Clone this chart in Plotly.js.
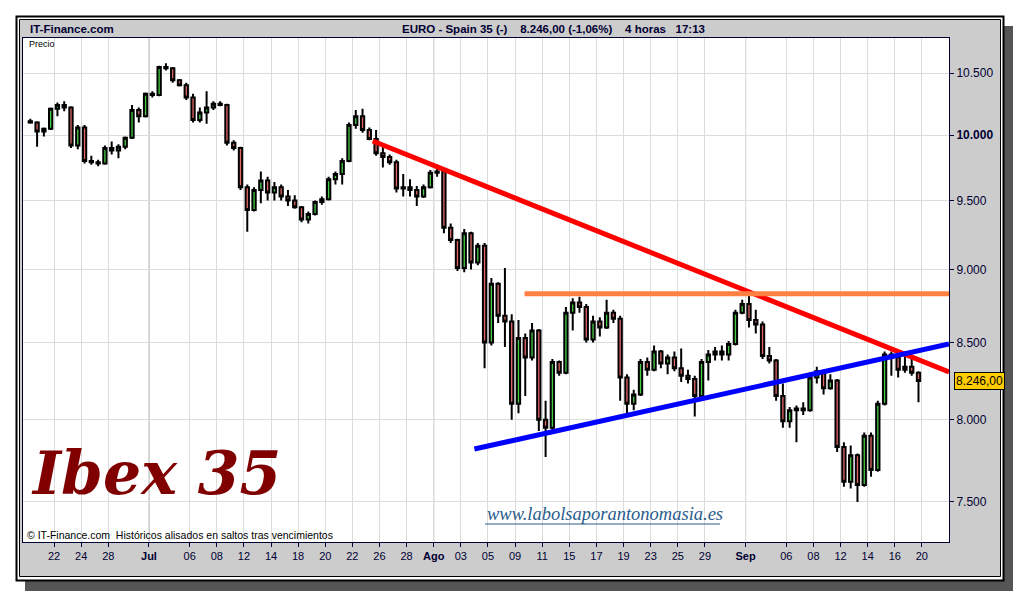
<!DOCTYPE html>
<html>
<head>
<meta charset="utf-8">
<script src="https://cdn.plot.ly/plotly-3.0.1.min.js"></script>
<style>
  body { margin: 0; background: #ffffff; }
  #graph_area { width: 1020px; height: 600px; }
</style>
</head>
<body>
<div id="graph_area"></div>
<script>
// Ibex 35, barras de 4 horas (2 por sesion), 20 jun - 19 sep
const tickDay = [2, 4, 6, 9, 12, 14, 16, 18, 20, 22, 24, 26, 28, 30, 32, 34, 36, 38, 40, 42, 44, 46, 48, 50, 53, 56, 58, 60, 62, 64, 66];
const tickText = ["22", "24", "28", "<b>Jul</b>", "06", "08", "12", "14", "18", "20", "22", "26", "28", "<b>Ago</b>",
    "03", "05", "09", "11", "15", "17", "19", "23", "25", "29", "<b>Sep</b>", "06", "08", "12", "14", "16", "20"];
const monthDay = [9, 30, 53];

const priceTicks = [7500, 8000, 8500, 9000, 9500, 10000, 10500];
const priceText = ["7.500", "8.000", "8.500", "9.000", "9.500", "<b>10.000</b>", "10.500"];

const open = [
    10110, 10100, 10030, 10050, 10210, 10240, 10220, 9920, 10060, 9800,
    9790, 9780, 9900, 9880, 9910, 9980, 10200, 10150, 10330, 10320,
    10550, 10540, 10440, 10400, 10300, 10120, 10180, 10220, 10250, 10240,
    9940, 9900, 9600, 9430, 9580, 9650, 9560, 9600, 9530, 9500,
    9450, 9360, 9400, 9490, 9510, 9660, 9700, 9800, 10080, 10150,
    10040, 9970, 9860, 9830, 9790, 9590, 9600, 9580, 9530, 9600,
    9710, 9720, 9300, 9210, 9010, 9260, 9050, 9170, 8500, 8900,
    8680, 8640, 8100, 8530, 8400, 8580, 8000, 7950, 8370, 8300,
    8700, 8770, 8740, 8520, 8640, 8600, 8700, 8660, 8270, 8100,
    8160, 8370, 8320, 8440, 8360, 8400, 8330, 8280, 8260, 8150,
    8370, 8420, 8440, 8420, 8490, 8700, 8760, 8650, 8620, 8410,
    8380, 8150, 7990, 8060, 8070, 8060, 8270, 8310, 8200, 8250,
    7830, 7620, 7780, 7600, 7900, 7690, 8100, 8420, 8400, 8320,
    8340, 8300
];
const high = [
    10130, 10110, 10060, 10220, 10260, 10270, 10230, 10080, 10080, 9840,
    9810, 9920, 9950, 9930, 9990, 10240, 10220, 10340, 10350, 10560,
    10580, 10550, 10450, 10420, 10330, 10220, 10350, 10270, 10270, 10250,
    9960, 9910, 9620, 9600, 9720, 9680, 9640, 9620, 9580, 9540,
    9460, 9420, 9500, 9530, 9680, 9720, 9820, 10100, 10200, 10210,
    10060, 10040, 9920, 9850, 9810, 9700, 9660, 9610, 9620, 9730,
    9770, 9730, 9330, 9220, 9290, 9270, 9190, 9190, 8940, 8910,
    9010, 8690, 8650, 8560, 8630, 8590, 8120, 8390, 8380, 8740,
    8800, 8810, 8760, 8680, 8670, 8790, 8720, 8680, 8290, 8190,
    8390, 8400, 8480, 8450, 8420, 8440, 8460, 8320, 8280, 8390,
    8450, 8470, 8480, 8510, 8720, 8790, 8840, 8720, 8640, 8470,
    8390, 8230, 8080, 8090, 8110, 8300, 8340, 8320, 8290, 8260,
    7860, 7840, 7790, 7920, 7920, 8120, 8440, 8440, 8430, 8440,
    8390, 8310
];
const low = [
    10090, 9910, 9990, 10040, 10150, 10190, 9900, 9890, 9780, 9770,
    9760, 9770, 9850, 9820, 9890, 9970, 10100, 10140, 10300, 10310,
    10520, 10420, 10390, 10280, 10100, 10100, 10090, 10200, 10230, 9920,
    9880, 9580, 9270, 9420, 9480, 9500, 9500, 9500, 9460, 9440,
    9340, 9330, 9390, 9470, 9500, 9620, 9620, 9790, 10050, 10020,
    9960, 9840, 9750, 9770, 9560, 9530, 9530, 9460, 9520, 9590,
    9680, 9260, 9190, 8990, 8980, 9000, 9030, 8330, 8480, 8630,
    8470, 8000, 8040, 8150, 8380, 7930, 7770, 7920, 8280, 8290,
    8580, 8700, 8500, 8500, 8540, 8590, 8630, 8120, 8040, 8060,
    8150, 8280, 8310, 8330, 8290, 8310, 8240, 8230, 8020, 8140,
    8250, 8380, 8380, 8380, 8480, 8690, 8600, 8560, 8390, 8360,
    8120, 7950, 7950, 7860, 8030, 8050, 8230, 8160, 8190, 7800,
    7590, 7580, 7500, 7590, 7650, 7680, 8090, 8280, 8270, 8300,
    8280, 8110
];
const close = [
    10100, 10030, 10050, 10210, 10240, 10220, 9920, 10060, 9800, 9790,
    9780, 9900, 9880, 9910, 9980, 10200, 10150, 10330, 10320, 10550,
    10540, 10440, 10400, 10300, 10120, 10180, 10220, 10250, 10240, 9940,
    9900, 9600, 9430, 9580, 9650, 9560, 9600, 9530, 9500, 9450,
    9360, 9400, 9490, 9510, 9660, 9700, 9800, 10080, 10150, 10040,
    9970, 9860, 9830, 9790, 9590, 9600, 9580, 9530, 9600, 9710,
    9720, 9300, 9210, 9010, 9260, 9050, 9170, 8500, 8900, 8680,
    8640, 8100, 8530, 8400, 8580, 8000, 7950, 8370, 8300, 8700,
    8770, 8740, 8520, 8640, 8600, 8700, 8660, 8270, 8100, 8160,
    8370, 8320, 8440, 8360, 8400, 8330, 8280, 8260, 8150, 8370,
    8420, 8440, 8420, 8490, 8700, 8760, 8650, 8620, 8410, 8380,
    8150, 7990, 8060, 8070, 8060, 8270, 8310, 8200, 8250, 7830,
    7620, 7780, 7600, 7900, 7690, 8100, 8420, 8400, 8320, 8340,
    8300, 8246
];

// lineas de tendencia (sesion, precio)
const redX = [25.5, 68], redY = [9955, 8305];
const orangeX = [36.7, 68], orangeY = [8830, 8830];
const blueX = [33.0, 68], blueY = [7818, 8489];
const lastPrice = 8246;

// posicion de cada barra: 2 barras por sesion
const barX = close.map((c, k) => Math.floor(k / 2) + (k % 2 ? 0.75 : 0.25));

// area del grafico en pixeles: x 23..949, y 38..542
const px = (x) => (x - 23) / 926;
const py = (y) => (542 - y) / 504;

const NAVY = "#000033";
const SANS = "Liberation Sans, Arial, sans-serif";

const traces = [
    {
        type: "candlestick",
        x: barX, open: open, high: high, low: low, close: close,
        increasing: { line: { color: "#000000", width: 2 }, fillcolor: "#44cc44" },
        decreasing: { line: { color: "#000000", width: 2 }, fillcolor: "#e06666" },
        whiskerwidth: 0,
        hoverinfo: "skip"
    },
    { type: "scatter", mode: "lines", x: redX, y: redY, line: { color: "#ff0000", width: 5 }, hoverinfo: "skip" },
    { type: "scatter", mode: "lines", x: orangeX, y: orangeY, line: { color: "#ff8040", width: 5 }, hoverinfo: "skip" },
    { type: "scatter", mode: "lines", x: blueX, y: blueY, line: { color: "#0000ff", width: 5 }, hoverinfo: "skip" }
];

const shapes = [
    // sombra
    { type: "rect", xref: "paper", yref: "paper", layer: "below", x0: px(25), x1: px(1013), y0: py(591), y1: py(26),
        fillcolor: "#555555", line: { width: 0 } },
    // marco exterior
    { type: "rect", xref: "paper", yref: "paper", layer: "below", x0: px(16.5), x1: px(1003.5), y0: py(580.5), y1: py(16.5),
        fillcolor: "#ffffff", line: { color: "#000000", width: 2 } },
    { type: "rect", xref: "paper", yref: "paper", layer: "below", x0: px(19.5), x1: px(1000.5), y0: py(576.5), y1: py(19.5),
        fillcolor: "#cccccc", line: { color: "#000000", width: 1 } },
    // fondo del area de precios
    { type: "rect", xref: "paper", yref: "paper", layer: "below", x0: 0, x1: 1, y0: 0, y1: 1,
        fillcolor: "#ffffff", line: { width: 0 } },
    // subrayado de la web
    { type: "line", xref: "paper", yref: "paper", x0: px(485), x1: px(720), y0: py(524), y1: py(524),
        line: { color: "#2b5d8c", width: 1 } }
];
monthDay.forEach(d => shapes.push({
    type: "line", xref: "x", yref: "paper", layer: "between", x0: d, x1: d, y0: 0, y1: 1,
    line: { color: "#a0a0a0", width: 1 }
}));

const annotations = [
    { xref: "paper", yref: "paper", x: px(28), y: py(29), xanchor: "left", yanchor: "middle", showarrow: false,
        text: "<b>IT-Finance.com</b>", font: { family: SANS, size: 11.5, color: NAVY } },
    { xref: "paper", yref: "paper", x: px(400), y: py(29), xanchor: "left", yanchor: "middle", showarrow: false,
        text: "<b>EURO - Spain 35 (-)\u00a0\u00a0\u00a0 8.246,00 (-1,06%)\u00a0\u00a0\u00a0 4 horas\u00a0\u00a0 17:13</b>",
        font: { family: SANS, size: 11.5, color: NAVY } },
    { xref: "paper", yref: "paper", x: px(27), y: py(44), xanchor: "left", yanchor: "middle", showarrow: false,
        text: "Precio", font: { family: SANS, size: 9, color: "#000000" } },
    { xref: "paper", yref: "paper", x: px(25), y: py(535), xanchor: "left", yanchor: "middle", showarrow: false,
        text: "© IT-Finance.com\u00a0 Históricos alisados en saltos tras vencimientos",
        font: { family: SANS, size: 10.5, color: "#000000" } },
    { xref: "paper", yref: "paper", x: px(29), y: py(473), xanchor: "left", yanchor: "middle", showarrow: false,
        text: "<b><i>Ibex 35</i></b>", font: { family: "DejaVu Serif, serif", size: 60, color: "#800000" } },
    { xref: "paper", yref: "paper", x: px(485), y: py(514), xanchor: "left", yanchor: "middle", showarrow: false,
        text: "<i>www.labolsaporantonomasia.es</i>", font: { family: "Liberation Serif, serif", size: 18.5, color: "#2b5d8c" } },
    { xref: "paper", yref: "y", x: px(954), y: Math.log10(lastPrice), xanchor: "left", yanchor: "middle", showarrow: false,
        text: "8.246,00", bgcolor: "#ffcc00", bordercolor: "#000000", borderwidth: 1, borderpad: 1,
        font: { family: SANS, size: 12, color: "#000000" } }
];

const layout = {
    width: 1020,
    height: 600,
    margin: { l: 23, r: 71, t: 38, b: 58, pad: 0 },
    paper_bgcolor: "#ffffff",
    plot_bgcolor: "#ffffff",
    showlegend: false,
    xaxis: {
        type: "linear",
        range: [-0.29, 68.0],
        tickmode: "array",
        tickvals: tickDay,
        ticktext: tickText,
        tickfont: { family: SANS, size: 11, color: NAVY },
        ticks: "outside", ticklen: 4, tickcolor: NAVY,
        showgrid: true, gridcolor: "#dcdcdc", gridwidth: 1,
        showline: true, linecolor: NAVY, linewidth: 1, mirror: true,
        zeroline: false,
        rangeslider: { visible: false },
        fixedrange: true
    },
    yaxis: {
        type: "log",
        range: [3.86143, 4.03311],
        side: "right",
        tickmode: "array",
        tickvals: priceTicks,
        ticktext: priceText,
        tickfont: { family: SANS, size: 12, color: NAVY },
        ticks: "outside", ticklen: 4, tickcolor: NAVY,
        showgrid: true, gridcolor: "#dcdcdc", gridwidth: 1,
        showline: true, linecolor: NAVY, linewidth: 1, mirror: true,
        zeroline: false,
        fixedrange: true
    },
    shapes: shapes,
    annotations: annotations
};

Plotly.newPlot("graph_area", traces, layout, { staticPlot: true, displayModeBar: false });
</script>
</body>
</html>
